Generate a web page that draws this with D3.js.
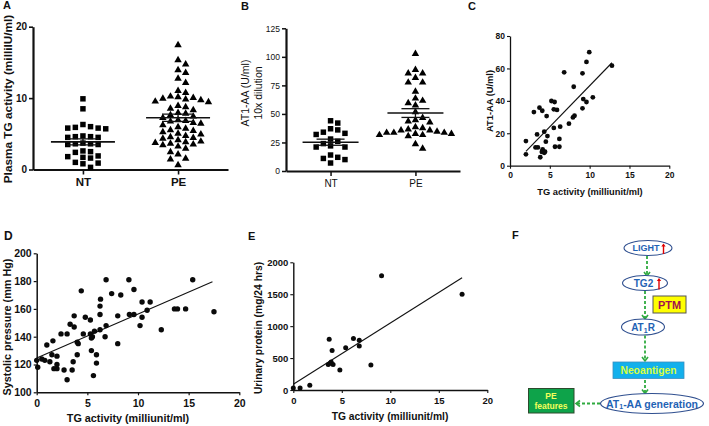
<!DOCTYPE html>
<html><head><meta charset="utf-8">
<script src="https://cdn.jsdelivr.net/npm/d3@7"></script>
<style>
body{margin:0;background:#fff}
svg{display:block;background:#fff}
text{font-family:Arial,'Liberation Sans',Helvetica,sans-serif}
</style>
</head><body>
<svg id="chart" width="709" height="426"></svg>
<script>
// ---------------- DATA ----------------
const categories = ["NT", "PE"];

// Panel A: plasma TG activity (milliIU/ml)
const tgNT = [9.9, 8.5, 6.3, 6.0, 5.9, 5.8, 5.8, 5.7, 4.7, 4.6, 4.6, 4.5, 4.5, 3.7, 3.6, 3.6, 3.5, 3.5,
  2.6, 2.5, 2.4, 1.9, 1.8, 1.7, 1.6, 1.0, 0.9, 0.8, 0.3];
const tgPE = [17.5, 15.4, 14.8, 14.0, 13.6, 12.8, 12.2, 11.1, 10.8, 10.3, 10.2, 10.1, 10.0, 9.9, 9.8, 9.6, 9.5,
  9.0, 8.8, 8.6, 8.4, 8.0, 7.9, 7.7, 7.5, 7.3, 7.0, 6.9, 6.8, 6.6, 6.5, 6.3, 6.0, 5.8, 5.6, 5.5,
  5.3, 5.1, 5.0, 4.8, 4.6, 4.5, 4.4, 4.2, 4.0, 3.9, 3.8, 3.7, 3.6, 3.5, 3.3, 3.0, 2.5, 2.2, 1.6, 1.5, 0.7];
const ticksA = [0, 10, 20];

// Panel B: AT1-AA (U/ml), 10x dilution
const aaNT = [44, 42, 37, 36, 34, 33, 32, 28, 26, 24, 22, 21, 21, 14, 12, 11, 10, 7];
const aaPE = [103, 89, 86, 86, 82, 78, 78, 70, 64, 62, 60, 58, 52, 47, 45, 44, 43, 39, 38, 37, 36, 36, 35,
  34, 34, 34, 33, 33, 32, 32, 31, 24, 20];
const ticksB = [0, 25, 50, 75, 100, 125];

// Panel C: TG activity vs AT1-AA
const cTG = [9.95, 9.6, 12.8, 6.8, 9.1, 8.0, 5.2, 5.6, 9.2, 10.4, 9.6, 3.0, 3.7, 4.05, 4.6, 5.5, 5.9, 9.1, 8.1,
  7.9, 7.4, 5.5, 6.3, 4.3, 3.4, 4.7, 2.0, 4.5, 6.2, 5.65, 6.2, 3.2, 3.5, 4.1, 4.3, 4.0, 2.0, 3.8, 4.4];
const cAA = [70, 64, 61.7, 57.6, 57, 48.7, 39.9, 39.3, 41.1, 42.2, 39.3, 33.1, 35.8, 33.9, 30.6, 34.8, 34.4, 35.4, 30.8,
  29.8, 25.9, 23.3, 24.1, 21, 19.3, 18.3, 15.2, 14.8, 16.5, 11.7, 11.7, 11.3, 11.3, 10.1, 8, 8.5, 7, 5.2, 8.6];
const ticksCy = [0, 20, 40, 60, 80];
const ticksX = [0, 5, 10, 15, 20];

// Panel D: TG activity vs systolic pressure
const dTG = [0, 0.1, 0.5, 0.8, 1.3, 1.5, 2.0, 1.0, 1.6, 2.4, 3.0, 3.3, 3.7, 3.7, 4.4, 4.6, 4.0, 4.0, 3.6, 4.8,
  5.3, 5.3, 5.5, 5.7, 5.4, 5.4, 5.9, 5.9, 6.25, 6.3, 6.25, 6.25, 6.85, 6.85, 6.75, 7.4, 8.3, 8.0, 8.0, 9.1,
  9.15, 9.6, 9.6, 10.4, 10.4, 10.2, 10.9, 11.2, 12.3, 13.6, 13.9, 14.7, 15.4, 17.5, 1.7, 2.0, 2.0, 2.7, 3.0,
  3.5, 5.6, 4.1];
const dSBP = [123, 118, 124, 123, 122, 127, 126, 134, 137, 142, 142, 149, 147, 155, 173, 142, 136, 127, 122, 154,
  152, 142, 140, 144, 139, 130, 127, 121, 162, 167, 156, 145, 181, 148, 140, 171, 170, 155, 135, 181,
  156, 156, 174, 165, 154, 148, 159, 165, 145, 160, 160, 160, 181, 158, 117, 120, 117, 116, 109,
  116, 112, 135];
const ticksDy = [100, 120, 140, 160, 180, 200];

// Panel E: TG activity vs urinary protein
const eTG = [0, 0.7, 1.7, 3.6, 3.8, 3.9, 4.1, 3.7, 4.0, 4.8, 5.4, 6.2, 6.8, 6.8, 8.0, 9.1, 17.4];
const eUP = [30, 30, 75, 400, 420, 440, 400, 795, 620, 315, 660, 805, 780, 690, 390, 1790, 1500];
const ticksEy = [0, 500, 1000, 1500, 2000];

// ---------------- DRAWING ----------------
const svg = d3.select("#chart");
const FONT = "Arial,'Liberation Sans',Helvetica,sans-serif";
const fmt = d3.format("d");

function letter(txt, x, y, size) {
  svg.append("text").attr("x", x).attr("y", y).text(txt)
    .attr("font-size", size || 11).attr("font-weight", "bold").attr("fill", "#111");
}

function swarm(values, yScale, size) {
  const pts = values.map(v => ({ v, y: yScale(v) })).sort((a, b) => b.v - a.v);
  const placed = [];
  pts.forEach(p => {
    for (let k = 0; k < 50; k++) {
      const off = k === 0 ? 0 : (k % 2 ? Math.ceil(k / 2) : -k / 2);
      if (!placed.some(q => q.off === off && Math.abs(q.y - p.y) < size)) { p.off = off; placed.push(p); break; }
    }
  });
  return placed;
}

function styleAxis(sel, cfg) {
  sel.select(".domain").attr("stroke", "#111").attr("stroke-width", cfg.axisW);
  sel.selectAll(".tick line").attr("stroke", "#111").attr("stroke-width", cfg.tickW);
  sel.selectAll(".tick text").attr("fill", "#111").attr("font-size", cfg.tickFont)
    .attr("font-weight", cfg.tickBold ? "bold" : "normal").attr("font-family", cfg.tickFamily || FONT);
}

function columnPanel(cfg) {
  const g = svg.append("g");
  const y = d3.scaleLinear().domain([cfg.ticks[0], cfg.ticks[cfg.ticks.length - 1]]).range([cfg.yB, cfg.yT]);
  const x = d3.scalePoint().domain(categories).range([cfg.xL, cfg.xR]).padding(0.525);
  const ya = g.append("g").attr("transform", `translate(${cfg.xL},0)`)
    .call(d3.axisLeft(y).tickValues(cfg.ticks).tickFormat(fmt).tickSize(4).tickSizeOuter(0).tickPadding(2));
  styleAxis(ya, cfg);
  const xa = g.append("g").attr("transform", `translate(0,${cfg.yB})`)
    .call(d3.axisBottom(x).tickSize(5).tickSizeOuter(0).tickPadding(cfg.xPad));
  styleAxis(xa, cfg);
  xa.selectAll(".tick text").attr("font-size", cfg.catFont).attr("font-weight", cfg.tickBold ? "bold" : "normal");
  cfg.yLabel.forEach((t, i) => {
    g.append("text").attr("transform", `translate(${cfg.labX[i]},${cfg.labY}) rotate(-90)`)
      .attr("text-anchor", "middle").attr("dominant-baseline", "central")
      .attr("font-size", cfg.labFont).attr("font-weight", cfg.labBold ? "bold" : "normal")
      .attr("fill", "#111").text(t);
  });
  [cfg.nt, cfg.pe].forEach((vals, gi) => {
    const cx = x(categories[gi]);
    const sw = swarm(vals, y, cfg.collide);
    const sym = d3.symbol().type(gi === 0 ? d3.symbolSquare : d3.symbolTriangle).size(gi === 0 ? cfg.sqSize : cfg.triSize);
    g.append("g").selectAll("path").data(sw).join("path")
      .attr("d", sym).attr("fill", "#000")
      .attr("transform", d => `translate(${cx + d.off * cfg.step},${d.y + (gi === 1 ? 0.5 : 0)})`);
    const m = d3.mean(vals);
    const sem = d3.deviation(vals) / Math.sqrt(vals.length);
    g.append("line").attr("x1", cx - cfg.meanW).attr("x2", cx + cfg.meanW)
      .attr("y1", y(m)).attr("y2", y(m)).attr("stroke", "#111").attr("stroke-width", 1.6);
    g.append("line").attr("x1", cx).attr("x2", cx).attr("y1", y(m - sem)).attr("y2", y(m + sem))
      .attr("stroke", "#111").attr("stroke-width", 1.3);
    [m - sem, m + sem].forEach(v => g.append("line").attr("x1", cx - cfg.capW).attr("x2", cx + cfg.capW)
      .attr("y1", y(v)).attr("y2", y(v)).attr("stroke", "#111").attr("stroke-width", 1.3));
  });
}

function scatterPanel(cfg) {
  const g = svg.append("g");
  const x = d3.scaleLinear().domain([0, 20]).range([cfg.xL, cfg.xR]);
  const y = d3.scaleLinear().domain([cfg.yTicks[0], cfg.yTicks[cfg.yTicks.length - 1]]).range([cfg.yB, cfg.yT]);
  const ya = g.append("g").attr("transform", `translate(${cfg.xL},0)`)
    .call(d3.axisLeft(y).tickValues(cfg.yTicks).tickFormat(fmt).tickSize(3).tickSizeOuter(0).tickPadding(2));
  styleAxis(ya, cfg);
  const xa = g.append("g").attr("transform", `translate(0,${cfg.yB})`)
    .call(d3.axisBottom(x).tickValues(ticksX).tickFormat(fmt).tickSize(3).tickSizeOuter(0).tickPadding(cfg.xPad));
  styleAxis(xa, cfg);
  g.append("text").attr("transform", `translate(${cfg.yLabX},${cfg.yLabY}) rotate(-90)`)
    .attr("text-anchor", "middle").attr("dominant-baseline", "central")
    .attr("font-size", cfg.labFont).attr("font-weight", "bold").attr("fill", "#111").text(cfg.yLabel);
  g.append("text").attr("x", cfg.xLabX).attr("y", cfg.xLabY)
    .attr("text-anchor", "middle").attr("dominant-baseline", "central")
    .attr("font-size", cfg.labFont).attr("font-weight", "bold").attr("fill", "#111").text("TG activity (milliunit/ml)");
  const mx = d3.mean(cfg.xs), my = d3.mean(cfg.ys);
  let sxy = 0, sxx = 0;
  cfg.xs.forEach((v, i) => { sxy += (v - mx) * (cfg.ys[i] - my); sxx += (v - mx) * (v - mx); });
  const b = sxy / sxx, a = my - b * mx;
  const x0 = d3.min(cfg.xs), x1 = d3.max(cfg.xs) - cfg.trimEnd;
  g.append("line").attr("x1", x(x0)).attr("y1", y(a + b * x0)).attr("x2", x(x1)).attr("y2", y(a + b * x1))
    .attr("stroke", "#111").attr("stroke-width", 1.1);
  g.append("g").selectAll("circle").data(cfg.xs.map((v, i) => [v, cfg.ys[i]])).join("circle")
    .attr("cx", d => x(d[0])).attr("cy", d => y(d[1])).attr("r", cfg.r).attr("fill", "#0a0a0a");
}

// Panel A
letter("A", 3, 9, 11);
columnPanel({
  nt: tgNT, pe: tgPE, ticks: ticksA, xL: 33, xR: 228, yB: 169.5, yT: 26.7,
  axisW: 2.2, tickW: 1.6, tickFont: 10, tickBold: true, catFont: 11.5, xPad: 3,
  yLabel: ["Plasma TG activity (milliIU/ml)"], labX: [7.5], labY: 99, labFont: 11.8, labBold: true,
  collide: 6, step: 7.6, sqSize: 30, triSize: 24, meanW: 32, capW: 16
});

// Panel B
letter("B", 241, 10, 11);
columnPanel({
  nt: aaNT, pe: aaPE, ticks: ticksB, xL: 286, xR: 460, yB: 171, yT: 28.3,
  axisW: 2.2, tickW: 1.5, tickFont: 8.5, tickBold: false, catFont: 10, xPad: 4,
  tickFamily: "'Liberation Sans Narrow','Arial Narrow',Arial,'Liberation Sans',sans-serif",
  yLabel: ["AT1-AA (U/ml)", "10x dilution"], labX: [245, 258], labY: 93, labFont: 10.5, labBold: false,
  collide: 6, step: 7.2, sqSize: 30, triSize: 24, meanW: 28, capW: 14
});

// Panel C
letter("C", 468, 10, 11);
scatterPanel({
  xs: cTG, ys: cAA, yTicks: ticksCy, xL: 510, xR: 669.3, yB: 165.7, yT: 36,
  axisW: 1.3, tickW: 1.1, tickFont: 8.5, tickBold: true, xPad: 3,
  yLabel: "AT1-AA (U/ml)", yLabX: 490, yLabY: 101, xLabX: 590, xLabY: 192, labFont: 9.3, r: 2.4, trimEnd: 0
});

// Panel D
letter("D", 4, 240, 12);
scatterPanel({
  xs: dTG, ys: dSBP, yTicks: ticksDy, xL: 36.7, xR: 239.3, yB: 392.3, yT: 253.3,
  axisW: 1.5, tickW: 1.2, tickFont: 10.5, tickBold: true, xPad: 4,
  yLabel: "Systolic pressure (mm Hg)", yLabX: 7, yLabY: 327, xLabX: 128, xLabY: 418, labFont: 10.8, r: 2.7, trimEnd: 0.15
});

// Panel E
letter("E", 248, 240, 11);
scatterPanel({
  xs: eTG, ys: eUP, yTicks: ticksEy, xL: 293.3, xR: 487.3, yB: 390, yT: 262.3,
  axisW: 1.4, tickW: 1.1, tickFont: 9.5, tickBold: true, xPad: 4,
  yLabel: "Urinary protein (mg/24 hrs)", yLabX: 258, yLabY: 328, xLabX: 390, xLabY: 416, labFont: 10.3, r: 2.5, trimEnd: 0
});

// Panel F: pathway diagram
letter("F", 512, 239, 11);
const F = svg.append("g");
const green = "#2faa3f", blueTxt = "#1f63b5", ellStroke = "#2f4f8f";
function vArrow(x, y1, y2) {
  F.append("line").attr("x1", x).attr("x2", x).attr("y1", y1).attr("y2", y2 - 1)
    .attr("stroke", green).attr("stroke-width", 1.8).attr("stroke-dasharray", "3,2");
  F.append("path").attr("d", `M${x - 3},${y2 - 4} L${x},${y2} L${x + 3},${y2 - 4}`)
    .attr("fill", "none").attr("stroke", green).attr("stroke-width", 1.6);
}
function ell(cx, cy, rx, ry) {
  F.append("ellipse").attr("cx", cx).attr("cy", cy).attr("rx", rx).attr("ry", ry)
    .attr("fill", "#fff").attr("stroke", ellStroke).attr("stroke-width", 1.1);
}
function redUp(x, y1, y2) {
  F.append("line").attr("x1", x).attr("x2", x).attr("y1", y1).attr("y2", y2 + 2)
    .attr("stroke", "#e00000").attr("stroke-width", 1.4);
  F.append("path").attr("d", `M${x - 2.2},${y2 + 3} L${x},${y2} L${x + 2.2},${y2 + 3} Z`).attr("fill", "#e00000");
}
ell(648, 248, 24, 7.5);
F.append("text").attr("x", 646).attr("y", 248).attr("text-anchor", "middle").attr("dominant-baseline", "central")
  .attr("font-size", 9).attr("font-weight", "bold").attr("fill", blueTxt).text("LIGHT");
redUp(663.5, 254, 243.5);
vArrow(647, 256, 276);
ell(645, 283, 22.5, 7.5);
F.append("text").attr("x", 643.5).attr("y", 283).attr("text-anchor", "middle").attr("dominant-baseline", "central")
  .attr("font-size", 10).attr("font-weight", "bold").attr("fill", blueTxt).text("TG2");
redUp(659, 289.5, 278);
vArrow(645, 291, 319);
F.append("rect").attr("x", 653).attr("y", 296).attr("width", 33).attr("height", 17)
  .attr("fill", "#ffff00").attr("stroke", "#555").attr("stroke-width", 1);
F.append("text").attr("x", 669.5).attr("y", 305).attr("text-anchor", "middle").attr("dominant-baseline", "central")
  .attr("font-size", 11).attr("font-weight", "bold").attr("fill", "#a3104e").text("PTM");
ell(643, 327, 21.5, 8);
const at1r = F.append("text").attr("x", 643).attr("y", 327).attr("text-anchor", "middle").attr("dominant-baseline", "central")
  .attr("font-size", 10).attr("font-weight", "bold").attr("fill", blueTxt);
at1r.append("tspan").text("AT");
at1r.append("tspan").attr("font-size", 7).attr("dy", 2.5).text("1");
at1r.append("tspan").attr("dy", -2.5).text("R");
vArrow(645, 335.5, 361);
F.append("rect").attr("x", 613).attr("y", 362).attr("width", 71).attr("height", 16.5)
  .attr("fill", "#13b0ec").attr("stroke", "#3a8fc0").attr("stroke-width", 0.8);
F.append("text").attr("x", 648.5).attr("y", 370.5).attr("text-anchor", "middle").attr("dominant-baseline", "central")
  .attr("font-size", 10.3).attr("font-weight", "bold").attr("fill", "#d8ff3c").text("Neoantigen");
vArrow(645, 380, 393.5);
ell(652, 403.5, 51.5, 10);
const aa = F.append("text").attr("x", 652).attr("y", 403.5).attr("text-anchor", "middle").attr("dominant-baseline", "central")
  .attr("font-size", 10.5).attr("font-weight", "bold").attr("fill", blueTxt);
aa.append("tspan").text("AT");
aa.append("tspan").attr("font-size", 7).attr("dy", 2.5).text("1");
aa.append("tspan").attr("dy", -2.5).text("-AA generation");
F.append("line").attr("x1", 600).attr("x2", 577).attr("y1", 403.5).attr("y2", 403.5)
  .attr("stroke", green).attr("stroke-width", 1.8).attr("stroke-dasharray", "3,2");
F.append("path").attr("d", `M580,400.5 L576,403.5 L580,406.5`).attr("fill", "none").attr("stroke", green).attr("stroke-width", 1.6);
F.append("rect").attr("x", 528.5).attr("y", 388.5).attr("width", 45.5).attr("height", 24.5)
  .attr("fill", "#0ea34a").attr("stroke", "#2d4a2d").attr("stroke-width", 1);
F.append("text").attr("x", 551).attr("y", 395.5).attr("text-anchor", "middle").attr("dominant-baseline", "central")
  .attr("font-size", 8.5).attr("font-weight", "bold").attr("fill", "#f4ff5a").text("PE");
F.append("text").attr("x", 551).attr("y", 406).attr("text-anchor", "middle").attr("dominant-baseline", "central")
  .attr("font-size", 8.5).attr("font-weight", "bold").attr("fill", "#f4ff5a").text("features");
</script>
</body></html>
